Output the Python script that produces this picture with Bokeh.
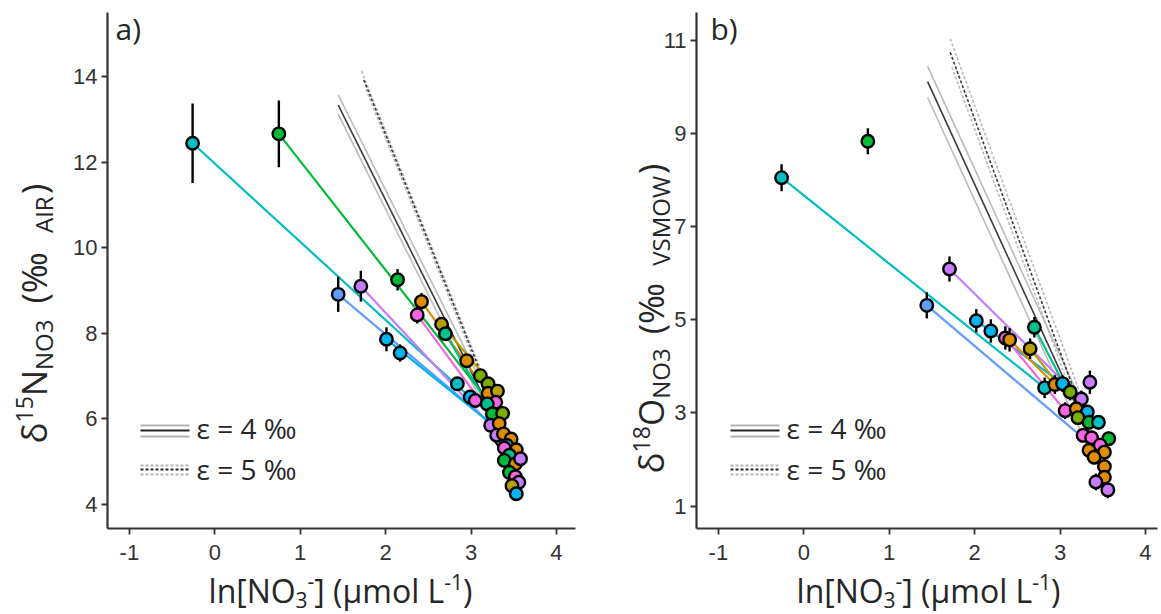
import numpy as np
from bokeh.plotting import figure
from bokeh.layouts import row
from bokeh.models import Label, Range1d, FixedTicker, ColumnDataSource
from bokeh.embed import file_html
from bokeh.resources import INLINE

COLORS = {"orange": "#DE8C00", "olive": "#B79F00", "lime": "#7CAE00", "green": "#00BA38",
          "teal": "#00C08B", "cyan": "#00BFC4", "sky": "#00B4F0", "blue": "#619CFF",
          "purple": "#C77CFF", "pink": "#F564E3"}

# ---------------- panel a data (ln[NO3], d15N) ----------------
a_grp = ["cyan", "green", "blue", "purple", "green", "sky", "sky", "orange", "pink", "olive",
         "teal", "orange", "lime", "cyan", "lime", "orange", "olive", "sky", "pink", "pink",
         "teal", "green", "lime", "purple", "orange", "blue", "purple", "orange", "orange", "sky",
         "pink", "orange", "teal", "green", "orange", "purple", "green", "pink", "purple", "olive", "sky"]
a_x = [-0.26, 0.75, 1.445, 1.71, 2.14, 2.01, 2.17, 2.42, 2.37, 2.655,
       2.70, 2.95, 3.11, 2.84, 3.20, 3.20, 3.31, 2.99, 3.05, 3.29,
       3.19, 3.25, 3.37, 3.23, 3.33, 3.36, 3.30, 3.38, 3.47, 3.42,
       3.39, 3.53, 3.45, 3.39, 3.52, 3.58, 3.45, 3.52, 3.56, 3.48, 3.53]
a_y = [12.44, 12.66, 8.91, 9.10, 9.25, 7.86, 7.54, 8.74, 8.43, 8.21,
       7.99, 7.36, 7.01, 6.82, 6.82, 6.60, 6.65, 6.51, 6.43, 6.39,
       6.35, 6.12, 6.13, 5.85, 5.89, 5.50, 5.62, 5.65, 5.53, 5.38,
       5.32, 5.28, 5.15, 5.03, 4.95, 5.07, 4.75, 4.65, 4.52, 4.44, 4.25]
a_err = [0.93, 0.78, 0.41, 0.36, 0.25, 0.28, 0.20, 0.20, 0.20, 0.15,
         0.15, 0.15, 0.12, 0.12, 0.12, 0.12, 0.10, 0.12, 0.12, 0.12,
         0.10, 0.10, 0.10, 0.10, 0.10, 0.10, 0.10, 0.10, 0.10, 0.10,
         0.10, 0.10, 0.10, 0.10, 0.10, 0.10, 0.10, 0.10, 0.10, 0.10, 0.10]

a_seg_grp = ["cyan", "green", "blue", "purple", "sky", "pink", "orange", "olive", "teal"]
a_seg_x0 = [-0.26, 0.75, 1.445, 1.71, 2.01, 2.37, 2.42, 2.655, 2.70]
a_seg_y0 = [12.44, 12.66, 8.91, 9.10, 7.86, 8.43, 8.74, 8.21, 7.99]
a_seg_x1 = [3.10, 3.15, 3.22, 3.23, 3.20, 3.10, 3.20, 3.31, 3.19]
a_seg_y1 = [6.30, 6.55, 5.92, 5.85, 5.95, 6.45, 6.60, 6.65, 6.35]

# Rayleigh model lines (light, central, light)
a_r4_x0 = [1.445, 1.445, 1.445]
a_r4_y0 = [13.57, 13.33, 13.12]
a_r4_x1 = [3.20, 3.20, 3.20]
a_r4_y1 = [6.55, 6.31, 6.10]
a_r5_x0 = [1.718, 1.745, 1.770]
a_r5_y0 = [14.13, 13.92, 13.70]
a_r5_x1 = [3.20, 3.20, 3.20]
a_r5_y1 = [6.72, 6.65, 6.55]

# ---------------- panel b data (ln[NO3], d18O) ----------------
b_grp = ["cyan", "green", "purple", "blue", "sky", "sky", "pink", "orange", "olive", "teal",
         "cyan", "orange", "sky", "lime", "purple", "purple", "pink", "orange", "sky", "lime",
         "green", "cyan", "pink", "pink", "green", "pink", "orange", "orange", "orange", "orange",
         "orange", "purple", "purple"]
b_x = [-0.26, 0.75, 1.706, 1.44, 2.02, 2.19, 2.36, 2.41, 2.65, 2.70,
       2.82, 2.94, 3.03, 3.12, 3.35, 3.25, 3.06, 3.19, 3.32, 3.21,
       3.34, 3.45, 3.27, 3.37, 3.57, 3.47, 3.34, 3.52, 3.40, 3.52,
       3.52, 3.42, 3.56]
b_y = [8.05, 8.83, 6.09, 5.31, 4.98, 4.76, 4.61, 4.57, 4.38, 4.84,
       3.54, 3.61, 3.63, 3.45, 3.66, 3.30, 3.05, 3.09, 3.02, 2.90,
       2.80, 2.80, 2.52, 2.47, 2.45, 2.31, 2.20, 2.16, 2.05, 1.85,
       1.62, 1.52, 1.35]
b_err = [0.29, 0.28, 0.27, 0.28, 0.25, 0.25, 0.25, 0.25, 0.22, 0.22,
         0.22, 0.20, 0.18, 0.18, 0.25, 0.18, 0.18, 0.18, 0.15, 0.15,
         0.15, 0.15, 0.15, 0.15, 0.15, 0.15, 0.15, 0.15, 0.15, 0.15,
         0.15, 0.18, 0.18]

b_seg_grp = ["cyan", "blue", "purple", "sky", "pink", "orange", "teal", "olive"]
b_seg_x0 = [-0.26, 1.44, 1.706, 2.02, 2.36, 2.41, 2.70, 2.65]
b_seg_y0 = [8.05, 5.31, 6.09, 4.98, 4.61, 4.57, 4.84, 4.38]
b_seg_x1 = [2.82, 3.19, 3.25, 3.03, 3.06, 2.94, 3.05, 2.94]
b_seg_y1 = [3.54, 2.59, 3.30, 3.63, 3.05, 3.61, 3.60, 3.70]

b_r4_x0 = [1.45, 1.45, 1.45]
b_r4_y0 = [10.44, 10.11, 9.77]
b_r4_x1 = [3.35, 3.35, 3.35]
b_r4_y1 = [2.84, 2.51, 2.17]
b_r5_x0 = [1.714, 1.714, 1.734]
b_r5_y0 = [11.03, 10.74, 10.42]
b_r5_x1 = [3.35, 3.35, 3.35]
b_r5_y1 = [2.85, 2.56, 2.34]

x_ticks = [-1, 0, 1, 2, 3, 4]
a_yticks = [4, 6, 8, 10, 12, 14]
b_yticks = [1, 3, 5, 7, 9, 11]

# ---------------- layout constants ----------------
FIG_H = 613
A_W, B_W = 588, 572
# full-canvas ranges (the frame covers the whole figure; axes are placed inside it)
A_XR, A_YR = (-2.5094, 4.3758), (1.4533, 15.7757)
B_XR, B_YR = (-2.5211, 4.1768), (-1.3026, 11.8519)
A_XB, A_YB = (-1.256, 4.224), (3.439, 15.495)
B_XB, B_YB = (-1.256, 4.142), (0.521, 11.594)
LIGHT, DARK = "#b4b4b4", "#262626"
TXT = "#262626"
K = 0.31   # observed baseline drop of rendered text, in em

# Open Sans approximate advance widths (em)
OSW = {' ': 0.26, '(': 0.296, ')': 0.296, '[': 0.299, ']': 0.299, 'A': 0.633, 'I': 0.279,
       'R': 0.635, 'N': 0.748, 'O': 0.781, 'S': 0.541, 'V': 0.593, 'W': 0.921, 'M': 0.906,
       'L': 0.518, 'l': 0.274, 'n': 0.614, 'm': 0.930, 'o': 0.604, 'µ': 0.617, 'δ': 0.60,
       'ε': 0.49, '‰': 1.32, '-': 0.322, '=': 0.572}


def tw(s, size):
    return sum(OSW.get(c, 0.572) for c in s) * size


def compose(p, pieces, ax, ay, vertical):
    """pieces: (text, font px, baseline shift, gap before); (ax, ay) = centre on baseline"""
    total = sum(tw(t, s) + g for t, s, _, g in pieces)
    pos = -total / 2
    for t, s, shift, g in pieces:
        pos += g
        up = shift + K * s
        if vertical:
            lbl = Label(x=ax - up, y=ay + pos, angle=np.pi / 2)
        else:
            lbl = Label(x=ax + pos, y=ay + up)
        lbl.update(x_units="screen", y_units="screen", text=t, text_font="Open Sans",
                   text_font_size=f"{s}px", text_color=TXT, text_align="left",
                   text_baseline="alphabetic")
        p.add_layout(lbl)
        pos += tw(t, s)


def make_fig(w, xr, yr, xb, yb, yticks):
    p = figure(width=w, height=FIG_H, x_range=Range1d(*xr), y_range=Range1d(*yr),
               output_backend="svg", toolbar_location=None, min_border=0)
    p.xaxis.ticker = FixedTicker(ticks=x_ticks)
    p.yaxis.ticker = FixedTicker(ticks=yticks)
    p.xaxis.major_label_overrides = {t: str(t) for t in x_ticks}
    p.xaxis.fixed_location = yb[0]
    p.yaxis.fixed_location = xb[0]
    p.xaxis.bounds = xb
    p.yaxis.bounds = yb
    p.xgrid.grid_line_color = None
    p.ygrid.grid_line_color = None
    p.outline_line_color = None
    p.axis.axis_line_width = 2.2
    p.axis.axis_line_color = "#333333"
    p.axis.major_tick_line_width = 1.8
    p.axis.major_tick_line_color = "#333333"
    p.axis.major_tick_out = 6
    p.axis.major_tick_in = 0
    p.axis.minor_tick_line_color = None
    p.axis.major_label_text_font = "Liberation Sans"
    p.axis.major_label_text_font_size = "22px"
    p.axis.major_label_text_color = "#333333"
    p.xaxis.major_label_standoff = 10
    p.yaxis.major_label_standoff = 4
    return p


def s2d(w, xr, yr, sx, sy):
    """screen px (from the figure's bottom-left) -> data coordinates"""
    return (xr[0] + sx * (xr[1] - xr[0]) / w, yr[0] + sy * (yr[1] - yr[0]) / FIG_H)


def draw_panel(p, w, xr, yr, xs, ys, errs, grps, sg, sx0, sy0, sx1, sy1, r4, r5, leg_x):
    for (x0, y0, x1, y1), dash in ((r4, "solid"), (r5, "3 2")):
        for i in range(3):
            p.line([x0[i], x1[i]], [y0[i], y1[i]], line_color=DARK if i == 1 else LIGHT,
                   line_width=1.6, line_dash=dash, line_alpha=0.9)
    src = ColumnDataSource(dict(x0=sx0, y0=sy0, x1=sx1, y1=sy1, c=[COLORS[g] for g in sg]))
    p.segment(x0="x0", y0="y0", x1="x1", y1="y1", line_color="c", line_width=2.2, source=src)
    ys_a = np.array(ys)
    er = np.array(errs)
    p.segment(x0=xs, y0=list(ys_a - er), x1=xs, y1=list(ys_a + er), line_color="black",
              line_width=2.4)
    psrc = ColumnDataSource(dict(x=xs, y=ys, c=[COLORS[g] for g in grps]))
    p.scatter(x="x", y="y", size=12.5, fill_color="c", line_color="black", line_width=2.4,
              source=psrc)
    # legend for the Rayleigh lines
    for (ty, ly, dash, lab) in ((186, (188, 183, 177), "solid", "ε = 4 ‰"),
                                (145, (148, 144, 139), "3 2", "ε = 5 ‰")):
        for i, yy in enumerate(ly):
            xa, ya = s2d(w, xr, yr, leg_x, yy)
            xb_, _ = s2d(w, xr, yr, leg_x + 49, yy)
            p.line([xa, xb_], [ya, ya], line_color=DARK if i == 1 else LIGHT, line_width=2,
                   line_dash=dash)
        p.add_layout(Label(x=leg_x + 56, y=ty, x_units="screen", y_units="screen", text=lab,
                           text_font="Open Sans", text_font_size="28px", text_color=TXT,
                           text_baseline="middle"))


X_TITLE = [("ln[NO", 32, 0, 0), ("3", 21, -6, 0), ("-", 21, 13, 0), ("] (µmol L", 32, 0, 0),
           ("-1", 21, 12, 0), (")", 32, 0, 0)]

# ---------------- panel a ----------------
pa = make_fig(A_W, A_XR, A_YR, A_XB, A_YB, a_yticks)
draw_panel(pa, A_W, A_XR, A_YR, a_x, a_y, a_err, a_grp, a_seg_grp, a_seg_x0, a_seg_y0,
           a_seg_x1, a_seg_y1, (a_r4_x0, a_r4_y0, a_r4_x1, a_r4_y1),
           (a_r5_x0, a_r5_y0, a_r5_x1, a_r5_y1), 140)
compose(pa, [("a)", 30, 0, 0)], 128, 576, False)
compose(pa, X_TITLE, 340, 13, False)
compose(pa, [("δ", 35, 0, 0), ("15", 23, 13, 0), ("N", 35, 0, 0), ("NO3", 24, -6, 0),
             ("(‰", 35, 0, 16), ("AIR", 24, -6, 14), (")", 35, 0, 2)], 44, 300, True)

# ---------------- panel b ----------------
pb = make_fig(B_W, B_XR, B_YR, B_XB, B_YB, b_yticks)
draw_panel(pb, B_W, B_XR, B_YR, b_x, b_y, b_err, b_grp, b_seg_grp, b_seg_x0, b_seg_y0,
           b_seg_x1, b_seg_y1, (b_r4_x0, b_r4_y0, b_r4_x1, b_r4_y1),
           (b_r5_x0, b_r5_y0, b_r5_x1, b_r5_y1), 142)
compose(pb, [("b)", 30, 0, 0)], 135, 576, False)
compose(pb, X_TITLE, 340, 13, False)
compose(pb, [("δ", 35, 0, 0), ("18", 23, 13, 0), ("O", 35, 0, 0), ("NO3", 24, -6, 0),
             ("(‰", 35, 0, 14), ("VSMOW", 24, -6, 12), (")", 35, 0, 2)], 73, 295, True)

layout = row(pa, pb)
open("out.html", "w").write(file_html(layout, INLINE))
